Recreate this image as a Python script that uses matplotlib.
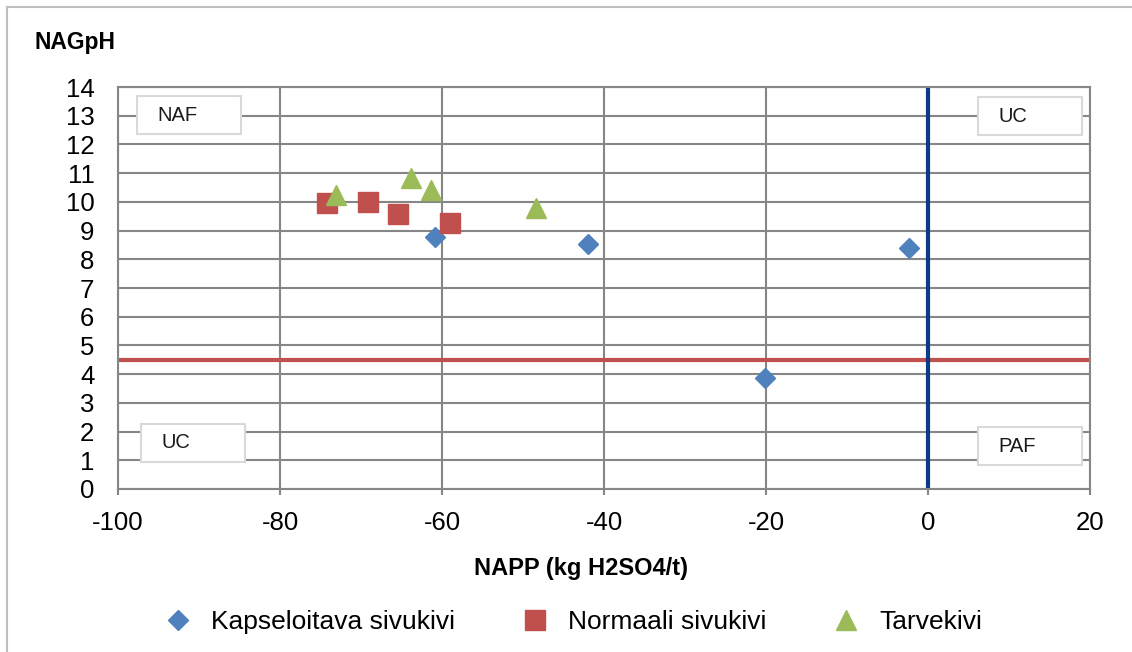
import matplotlib
matplotlib.use("Agg")
import matplotlib.pyplot as plt
from matplotlib.patches import Rectangle
from matplotlib.lines import Line2D

plt.rcParams["font.family"] = ["Liberation Sans", "DejaVu Sans"]
plt.rcParams["axes.unicode_minus"] = False

# ---- data ----
kapseloitava_x = [-60.9, -42.0, -2.3, -20.1]
kapseloitava_y = [8.79, 8.52, 8.39, 3.87]

normaali_x = [-74.2, -69.1, -65.4, -59.0]
normaali_y = [9.97, 10.01, 9.57, 9.25]

tarvekivi_x = [-73.1, -63.8, -61.4, -48.4]
tarvekivi_y = [10.24, 10.83, 10.41, 9.79]

series_names = ["Kapseloitava sivukivi", "Normaali sivukivi", "Tarvekivi"]
nagph_limit = 4.5
napp_limit = 0

# quadrant labels: text, (x0, y0) in axes fraction
quadrants = [("NAF", 0.0195, 0.883), ("UC", 0.8848, 0.8806),
             ("UC", 0.0237, 0.0672), ("PAF", 0.8848, 0.0597)]

GRID = "#868686"

fig = plt.figure(figsize=(11.32, 6.52), dpi=100)
ax = fig.add_axes([0.10424, 0.25, 0.85866, 0.61656])

ax.set_xlim(-100, 20)
ax.set_ylim(0, 14)
ax.set_xticks(range(-100, 21, 20))
ax.set_yticks(range(0, 15))
ax.set_axisbelow(True)
ax.grid(True, color=GRID, linewidth=1.5)
for sp in ax.spines.values():
    sp.set_color(GRID)
    sp.set_linewidth(1.5)
ax.tick_params(axis="x", length=4, width=1.5, color=GRID, pad=12, labelsize=18.5)
ax.tick_params(axis="y", length=0, pad=17, labelsize=18.5)

# limit lines
ax.axhline(nagph_limit, color="#C0504D", linewidth=3, zorder=2)
ax.axvline(napp_limit, color="#0A3A88", linewidth=3, zorder=2)

ax.plot(kapseloitava_x, kapseloitava_y, "D", color="#4F81BD", markersize=10.5,
        linestyle="none", label=series_names[0], zorder=4)
ax.plot(normaali_x, normaali_y, "s", color="#C0504D", markersize=14,
        linestyle="none", label=series_names[1], zorder=4)
ax.plot(tarvekivi_x, tarvekivi_y, "^", color="#9BBB59", markersize=14,
        linestyle="none", label=series_names[2], zorder=4)

# quadrant text boxes
bw, bh = 104 / 972, 38 / 402
for txt, x0, y0 in quadrants:
    ax.add_patch(Rectangle((x0, y0), bw, bh, transform=ax.transAxes,
                           facecolor="white", edgecolor="#D9D9D9",
                           linewidth=1.5, zorder=3))
    ax.text(x0 + 0.0206, y0 + bh / 2, txt, transform=ax.transAxes,
            fontsize=14.5, va="center", ha="left", color="#1A1A1A", zorder=5)

fig.text(35 / 1132, 1 - 42 / 652, "NAGpH", fontsize=16.5, fontweight="bold",
         va="center", ha="left")
fig.text(581 / 1132, 1 - 568 / 652, "NAPP (kg H2SO4/t)", fontsize=17,
         fontweight="bold", va="center", ha="center")

fig.legend(loc="center left", bbox_to_anchor=(165 / 1132, 1 - 622 / 652),
           ncol=3, frameon=False, fontsize=19, borderpad=0, borderaxespad=0,
           handlelength=1.0, handletextpad=0.73, columnspacing=2.55)

# outer chart border (top and left visible)
fig.add_artist(Line2D([7 / 1132, 1], [1 - 7 / 652, 1 - 7 / 652],
                      transform=fig.transFigure, color="#BFBFBF", linewidth=1.5))
fig.add_artist(Line2D([7 / 1132, 7 / 1132], [0, 1 - 7 / 652],
                      transform=fig.transFigure, color="#BFBFBF", linewidth=1.5))

fig.savefig("out.png", dpi=100)
